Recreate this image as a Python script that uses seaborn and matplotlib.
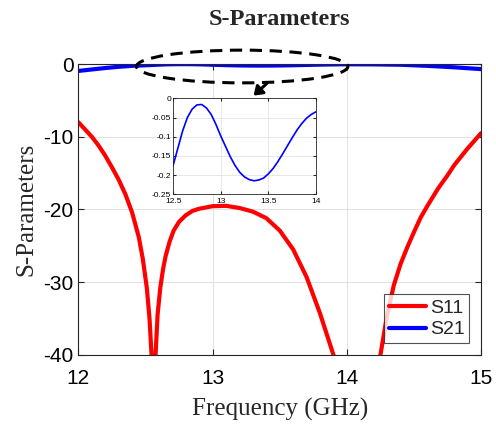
import matplotlib
matplotlib.use("Agg")
import matplotlib.pyplot as plt
import seaborn as sns
import pandas as pd
from matplotlib.patches import Ellipse

# S11 (dB)
s11_freq = [12.0, 12.05, 12.1, 12.15, 12.2, 12.25, 12.3, 12.35, 12.4, 12.45,
            12.48, 12.51, 12.53, 12.545, 12.56, 12.575, 12.59, 12.61, 12.63, 12.65,
            12.68, 12.71, 12.75, 12.8, 12.85, 12.9, 13.0, 13.1, 13.2, 13.3,
            13.4, 13.5, 13.6, 13.7, 13.8, 13.9, 14.0, 14.1, 14.2, 14.25,
            14.3, 14.35, 14.4, 14.45, 14.5, 14.55, 14.6, 14.68, 14.75, 14.8,
            14.9, 15.0]
s11_db = [-8.0, -9.0, -10.0, -11.2, -12.6, -14.2, -15.9, -17.9, -20.4, -23.8,
          -26.8, -30.8, -35.0, -40.0, -50.0, -40.0, -34.5, -30.8, -28.3, -26.4,
          -24.4, -22.9, -21.7, -20.8, -20.2, -19.9, -19.55, -19.5, -19.8, -20.3,
          -21.2, -22.9, -25.5, -29.3, -34.3, -40.0, -47.0, -53.0, -47.0, -40.0,
          -34.5, -30.4, -27.5, -25.2, -23.1, -21.1, -19.5, -17.1, -15.3, -13.9,
          -11.6, -9.5]

# S21 (dB)
s21_freq = [12.0, 12.1, 12.2, 12.3, 12.4, 12.45, 12.5, 12.55, 12.6, 12.65,
            12.7, 12.75, 12.8, 12.85, 12.9, 12.95, 13.0, 13.05, 13.1, 13.15,
            13.2, 13.25, 13.3, 13.35, 13.4, 13.45, 13.5, 13.55, 13.6, 13.65,
            13.7, 13.75, 13.8, 13.85, 13.9, 13.95, 14.0, 14.2, 14.4, 14.6,
            14.8, 15.0]
s21_db = [-0.95, -0.75, -0.55, -0.38, -0.25, -0.21, -0.175, -0.13, -0.085, -0.05,
          -0.028, -0.017, -0.016, -0.025, -0.042, -0.068, -0.098, -0.125, -0.152, -0.175,
          -0.193, -0.205, -0.212, -0.215, -0.213, -0.208, -0.197, -0.183, -0.165, -0.145,
          -0.124, -0.103, -0.083, -0.066, -0.052, -0.042, -0.035, -0.05, -0.1, -0.25,
          -0.45, -0.7]

main_xticks = [12, 13, 14, 15]
main_yticks = [0, -10, -20, -30, -40]
inset_xticks = [12.5, 13, 13.5, 14]
inset_xlabels = ["12.5", "13", "13.5", "14"]
inset_yticks = [0, -0.05, -0.1, -0.15, -0.2, -0.25]
inset_ylabels = ["0", "-0.05", "-0.1", "-0.15", "-0.2", "-0.25"]

df11 = pd.DataFrame({"f": s11_freq, "v": s11_db})
df21 = pd.DataFrame({"f": s21_freq, "v": s21_db})

sns.set_style("ticks")
plt.rcParams["font.family"] = ["Liberation Sans", "DejaVu Sans"]
plt.rcParams["axes.unicode_minus"] = False

fig = plt.figure(figsize=(4.96, 4.24), dpi=100)
ax = fig.add_axes([0.158, 0.163, 0.812, 0.686])

sns.lineplot(data=df11, x="f", y="v", ax=ax, color="#ff0000", lw=3, label="S11")
sns.lineplot(data=df21, x="f", y="v", ax=ax, color="#0000ff", lw=3, label="S21")

ax.set_xlim(12, 15)
ax.set_ylim(-40, 0)
ax.set_xticks(main_xticks)
ax.set_yticks(main_yticks)
ax.tick_params(labelsize=15, direction="in", top=True, right=True, length=4,
               colors="#262626", labelcolor="black")
ax.tick_params(axis="x", pad=10)
ax.grid(True, color="#e3e3e3", lw=0.8)
for s in ax.spines.values():
    s.set_color("#262626")
    s.set_linewidth(0.8)

ax.set_xlabel("Frequency (GHz)", family="Liberation Serif", fontsize=18, labelpad=7)
ax.set_ylabel("S-Parameters", family="Liberation Serif", fontsize=18, labelpad=4)
ax.set_title("S-Parameters", family="Liberation Serif", fontsize=17.5,
             fontweight="bold", pad=28)

leg = ax.legend(loc="lower right", fontsize=14, frameon=True, fancybox=False,
                handlelength=1.9, borderpad=0.25, labelspacing=0.2,
                handletextpad=0.2, borderaxespad=0.6)
leg.get_frame().set_edgecolor("#262626")
leg.get_frame().set_linewidth(0.8)

# dashed ellipse marking the zoomed region
ell = Ellipse((13.22, -0.34), 1.575, 4.5, fill=False, ls=(0, (4, 2.5)),
              lw=2.2, edgecolor="black", clip_on=False, zorder=5)
ax.add_patch(ell)
ax.annotate("", xy=(13.29, -4.6), xytext=(13.42, -2.4),
            arrowprops=dict(arrowstyle="-|>,head_width=0.35,head_length=0.5",
                            color="black", lw=2.2), annotation_clip=False)

# inset
ins = fig.add_axes([0.349, 0.542, 0.288, 0.226])
sns.lineplot(data=df21, x="f", y="v", ax=ins, color="#0000ff", lw=1.2, legend=False)
ins.set_xlim(12.5, 14)
ins.set_ylim(-0.25, 0)
ins.set_xticks(inset_xticks)
ins.set_xticklabels(inset_xlabels)
ins.set_yticks(inset_yticks)
ins.set_yticklabels(inset_ylabels)
ins.tick_params(labelsize=6, direction="in", top=True, right=True, length=2,
                pad=1.5, colors="#262626", labelcolor="black")
ins.tick_params(axis="x", pad=3)
ins.grid(True, color="#e3e3e3", lw=0.6)
ins.set_xlabel("")
ins.set_ylabel("")
for s in ins.spines.values():
    s.set_color("#262626")
    s.set_linewidth(0.6)

fig.savefig("out.png", dpi=100)
